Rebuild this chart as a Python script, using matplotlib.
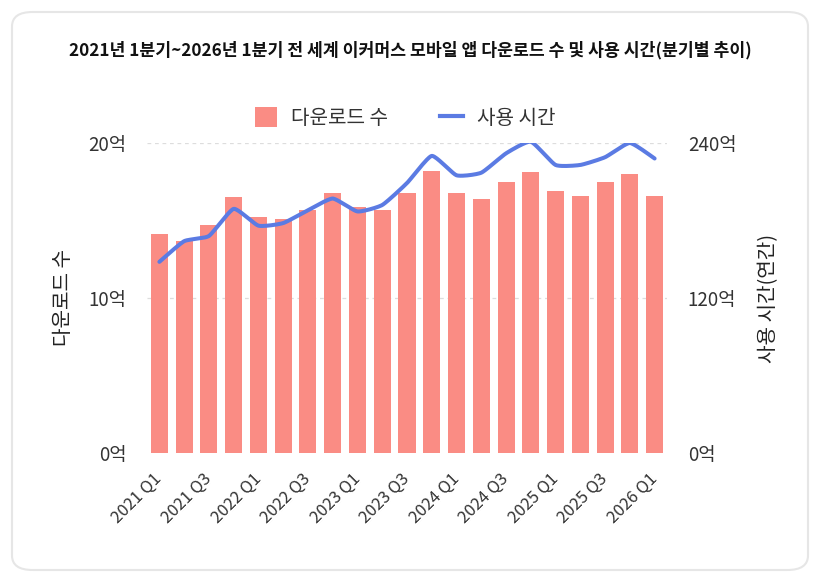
import numpy as np
import matplotlib
matplotlib.use('Agg')
import matplotlib.pyplot as plt
from matplotlib.patches import FancyBboxPatch, Patch
from matplotlib.lines import Line2D
from matplotlib.transforms import ScaledTranslation

plt.rcParams['font.family'] = ['Noto Sans CJK KR', 'DejaVu Sans']

### 데이터
quarters = [f'{y} Q{q}' for y in range(2021, 2026) for q in range(1, 5)] + ['2026 Q1']
downloads = [14.1, 13.7, 14.7, 16.5, 15.2, 15.1, 15.7, 16.8, 15.9, 15.7, 16.8,
             18.2, 16.8, 16.4, 17.5, 18.1, 16.9, 16.6, 17.5, 18.0, 16.6]
usage_hours = [148, 164, 168, 189, 176, 178, 188, 197, 187, 192, 209,
               230, 215, 217, 232, 241, 223, 223, 229, 240, 228]
left_ticks = [0, 10, 20]
right_ticks = [0, 120, 240]

title = '2021년 1분기~2026년 1분기 전 세계 이커머스 모바일 앱 다운로드 수 및 사용 시간(분기별 추이)'
bar_color = '#FA8C84'
line_color = '#5B7BE3'


def smooth_curve(x, y, n=20, t=0.5):
    # Catmull-Rom 방식으로 부드러운 선
    x = np.asarray(x, float)
    y = np.asarray(y, float)
    xs, ys = [], []
    for i in range(len(x) - 1):
        p0 = (x[max(i - 1, 0)], y[max(i - 1, 0)])
        p1 = (x[i], y[i])
        p2 = (x[i + 1], y[i + 1])
        p3 = (x[min(i + 2, len(x) - 1)], y[min(i + 2, len(x) - 1)])
        m1 = ((p2[0] - p0[0]) * t / 2, (p2[1] - p0[1]) * t / 2)
        m2 = ((p3[0] - p1[0]) * t / 2, (p3[1] - p1[1]) * t / 2)
        s = np.linspace(0, 1, n, endpoint=(i == len(x) - 2))
        h00 = 2 * s**3 - 3 * s**2 + 1
        h10 = s**3 - 2 * s**2 + s
        h01 = -2 * s**3 + 3 * s**2
        h11 = s**3 - s**2
        xs.append(h00 * p1[0] + h10 * m1[0] + h01 * p2[0] + h11 * m2[0])
        ys.append(h00 * p1[1] + h10 * m1[1] + h01 * p2[1] + h11 * m2[1])
    return np.concatenate(xs), np.concatenate(ys)


fig = plt.figure(figsize=(8.26, 5.8), dpi=100)
fig.patch.set_facecolor('white')

# 카드 배경
card = FancyBboxPatch((12 / 826, 10 / 580), 796 / 826, 558 / 580,
                      boxstyle='round,pad=0,rounding_size=0.025',
                      transform=fig.transFigure, facecolor='white',
                      edgecolor='#E6E6E6', linewidth=1.5, zorder=-5)
fig.patches.append(card)

ax = fig.add_axes([147 / 826, 127 / 580, 520 / 826, 310 / 580])
ax.set_facecolor('none')
x = np.arange(len(quarters))

ax.bar(x, downloads, width=0.69, color=bar_color, zorder=2)
ax.set_xlim(-0.5, len(quarters) - 0.5)
ax.set_ylim(0, 20)
ax.set_yticks(left_ticks)
ax.set_yticklabels([f'{v}억' for v in left_ticks], fontsize=13.5, color='#333333')
ax.set_xticks(x[::2])
ax.set_xticklabels(quarters[::2], rotation=45, ha='right', va='center',
                   rotation_mode='anchor', fontsize=12, color='#333333')
shift = ScaledTranslation(-6 / 100, 0, fig.dpi_scale_trans)
for lab in ax.get_xticklabels():
    lab.set_transform(lab.get_transform() + shift)
ax.tick_params(axis='y', length=0, pad=15)
ax.tick_params(axis='x', length=0, pad=17)
for v in [10, 20]:
    ax.axhline(v, color='#DDDDDD', linestyle=(0, (3, 3)), linewidth=0.9, zorder=1)
for s in ax.spines.values():
    s.set_visible(False)
ax.set_ylabel('다운로드 수', fontsize=14.5, color='#222222', labelpad=10)

ax2 = ax.twinx()
ax2.set_ylim(0, 240)
ax2.set_yticks(right_ticks)
ax2.set_yticklabels([f'{v}억' for v in right_ticks], fontsize=13.5, color='#333333')
ax2.tick_params(axis='y', length=0, pad=15)
for s in ax2.spines.values():
    s.set_visible(False)
ax2.set_ylabel('사용 시간(연간)', fontsize=14.5, color='#222222', rotation=90, labelpad=16)
sx, sy = smooth_curve(x, usage_hours)
ax2.plot(sx, sy, color=line_color, linewidth=2.9, solid_capstyle='round', zorder=3)

fig.text(410 / 826, 1 - 50 / 580, title, ha='center', va='center',
         fontsize=12.4, fontweight='bold', color='#111111')

handles = [Patch(facecolor=bar_color, edgecolor='none'),
           Line2D([0], [0], color=line_color, linewidth=3)]
fig.legend(handles, ['다운로드 수', '사용 시간'], loc='center',
           bbox_to_anchor=(405 / 826, 1 - 118 / 580), ncol=2, frameon=False,
           fontsize=14.5, handlelength=1.1, handleheight=1.1, columnspacing=2.6,
           handletextpad=0.7, labelcolor='#333333')

fig.savefig('out.png', dpi=100, facecolor='white')
